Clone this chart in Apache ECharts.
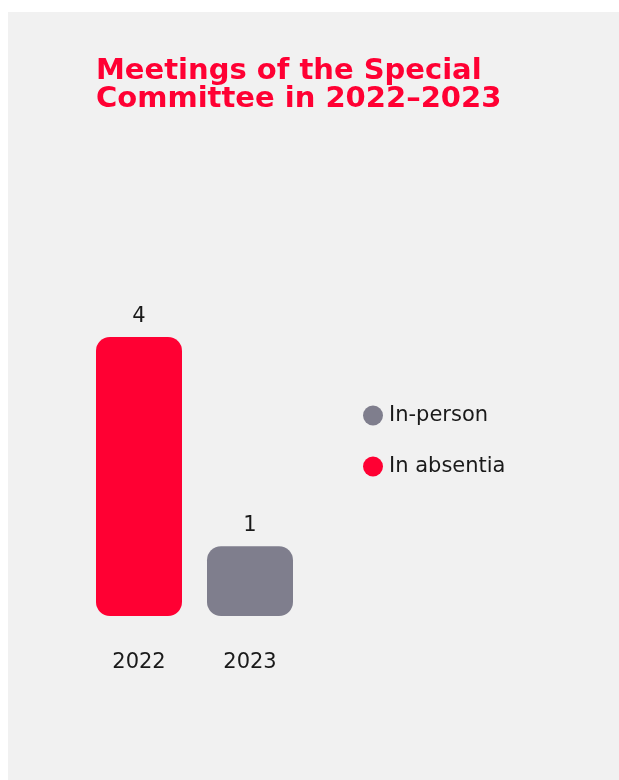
<!DOCTYPE html>
<html>
<head>
<meta charset="utf-8">
<script src="https://cdn.jsdelivr.net/npm/echarts@6/dist/echarts.min.js"></script>
<style>
  html, body { margin: 0; padding: 0; background: #ffffff; }
  #chart { width: 619px; height: 780px; }
</style>
</head>
<body>
<div id="chart"></div>
<script>
// data
var years = ['2022', '2023'];
var inPerson = ['-', 1];
var inAbsentia = [4, '-'];

var RED = '#FF0033';
var GREY = '#7F7E8D';
var TEXT = '#1a1a1a';
var FONT = '"DejaVu Sans", sans-serif';

var myChart = echarts.init(document.getElementById('chart'));

var barLabel = {
    show: true,
    position: 'top',
    distance: 10,
    color: TEXT,
    fontFamily: FONT,
    fontSize: 21
};

var option = {
    backgroundColor: '#ffffff',
    textStyle: { fontFamily: FONT },
    graphic: [
        {
            type: 'rect',
            left: 8,
            top: 12,
            shape: { width: 611, height: 768 },
            style: { fill: '#F1F1F1' },
            z: -10
        },
        {
            type: 'text',
            left: 96,
            top: 57,
            style: {
                text: 'Meetings of the Special\nCommittee in 2022\u20132023',
                fill: RED,
                font: 'bold 29px ' + FONT,
                lineHeight: 28
            }
        }
    ],
    legend: {
        orient: 'vertical',
        left: 363,
        top: 405,
        padding: 0,
        icon: 'circle',
        itemWidth: 20,
        itemHeight: 20,
        itemGap: 30,
        textStyle: { color: TEXT, fontSize: 21, fontFamily: FONT, padding: [0, 0, 0, 1] },
        data: ['In-person', 'In absentia']
    },
    grid: {
        left: 83.5,
        width: 222,
        top: 337,
        height: 279,
        containLabel: false
    },
    xAxis: {
        type: 'category',
        data: years,
        axisLine: { show: false },
        axisTick: { show: false },
        axisLabel: { color: TEXT, fontSize: 21, fontFamily: FONT, margin: 36 }
    },
    yAxis: {
        type: 'value',
        min: 0,
        max: 4,
        show: false,
        splitLine: { show: false }
    },
    series: [
        {
            name: 'In-person',
            type: 'bar',
            stack: 'total',
            barWidth: 86,
            data: inPerson,
            itemStyle: { color: GREY, borderRadius: 14 },
            label: barLabel
        },
        {
            name: 'In absentia',
            type: 'bar',
            stack: 'total',
            barWidth: 86,
            data: inAbsentia,
            itemStyle: { color: RED, borderRadius: 14 },
            label: barLabel
        }
    ]
};

myChart.setOption(option);
window.onresize = myChart.resize;
</script>
</body>
</html>
